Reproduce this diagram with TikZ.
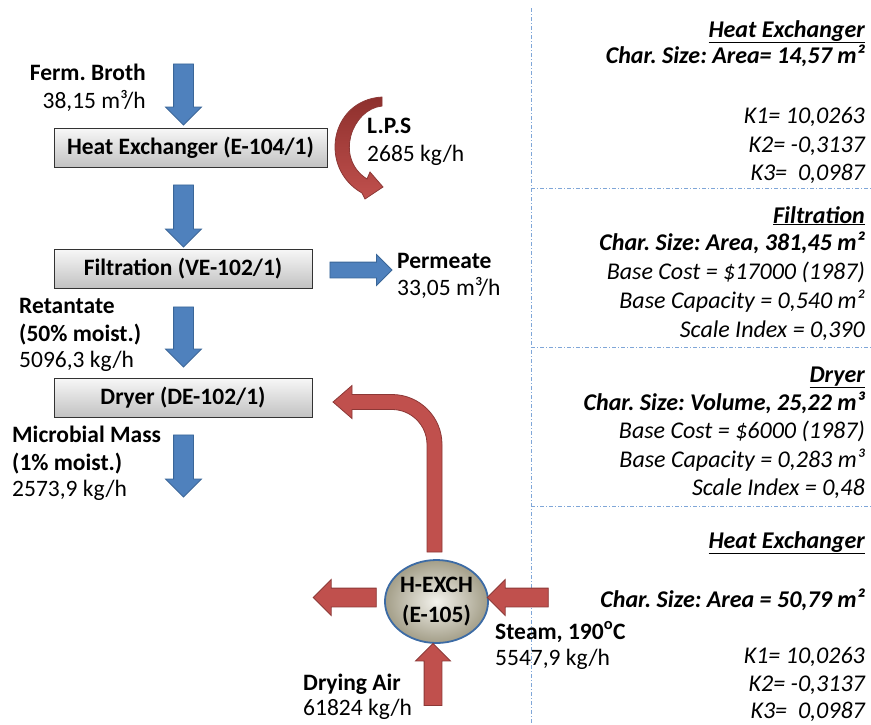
\documentclass[tikz,border=0pt]{standalone}
\usepackage{fontspec}
\setmainfont{Carlito}
\usetikzlibrary{shapes.geometric,shapes.arrows,calc}
\frenchspacing

\definecolor{flowblue}{HTML}{4F81BD}
\definecolor{flowblueedge}{HTML}{3A6698}
\definecolor{hotred}{HTML}{C0504D}
\definecolor{hotreddark}{HTML}{8E302D}
\definecolor{hotrededge}{HTML}{8C3836}
\definecolor{gridblue}{HTML}{7FA6D8}
\definecolor{ballrim}{HTML}{3C6BA5}
\definecolor{ballin}{HTML}{F3F2EC}
\definecolor{ballout}{HTML}{A39E88}

\begin{document}
\begin{tikzpicture}[x=1pt,y=-1pt,
  txt/.style={inner sep=0pt, font=\fontsize{23.5}{28}\selectfont},
  unitbox/.style={draw=black!80, line width=0.8pt, top color=black!3, bottom color=black!24,
    minimum width=#1, minimum height=39pt, inner sep=0pt,
    font=\fontsize{23.5}{28}\selectfont\bfseries},
  % block arrows: shaft width = 2 x inner ysep, head = shaft + 2 x head extend
  bluearrow/.style={single arrow, draw=flowblueedge, fill=flowblue, line width=0.8pt,
    inner xsep=0pt, inner ysep=9.5pt, single arrow head extend=8pt, minimum height=#1},
  redarrow/.style={single arrow, draw=hotrededge, fill=hotred, line width=0.8pt,
    inner xsep=0pt, inner ysep=9pt, single arrow head extend=8.5pt, minimum height=#1},
  sep/.style={draw=gridblue, line width=0.8pt, dash pattern=on 4pt off 2pt on 1pt off 2pt},
  info/.style={anchor=base east, inner sep=0pt, font=\fontsize{24}{28}\selectfont\itshape},
  infobold/.style={info, font=\fontsize{24}{28}\selectfont\bfseries\itshape},
  lw/.style={txt, anchor=base west},
  le/.style={txt, anchor=base east}
]
\useasboundingbox (0,0) rectangle (871,724);

% ---- separators of the cost panel ----
\coordinate (vtop) at (531,8);
\coordinate (vbot) at (531,724);
\draw[sep] (vtop) -- (vbot);
\coordinate (s1l) at (531,188); \coordinate (s1r) at (871,188);
\coordinate (s2l) at (531,347); \coordinate (s2r) at (871,347);
\coordinate (s3l) at (531,506); \coordinate (s3r) at (871,506);
\draw[sep] (s1l) -- (s1r);
\draw[sep] (s2l) -- (s2r);
\draw[sep] (s3l) -- (s3r);

% ---- process units ----
\node[unitbox=273pt] (hx1) at (190.5,147.5) {Heat Exchanger (E-104/1)};
\node[unitbox=258pt] (filt) at (183,268.5) {Filtration (VE-102/1)};
\node[unitbox=258pt] (dry) at (183,397.5) {Dryer (DE-102/1)};
\node[ellipse, draw=ballrim, line width=1.8pt, inner color=ballin, outer color=ballout,
  minimum width=99pt, minimum height=83pt, inner sep=0pt, align=center,
  font=\fontsize{23.5}{30}\selectfont\bfseries] (hx2) at (436.5,601.5) {H-EXCH\\(E-105)};

% ---- main line flows ----
\node[bluearrow=61pt, rotate=-90] (a1) at (183.5,89.5) {};
\node[bluearrow=62pt, rotate=-90] (a2) at (183.5,211) {};
\node[bluearrow=62pt, inner ysep=7.5pt, single arrow head extend=7.5pt] (a3) at (357,270) {};
\node[bluearrow=60pt, rotate=-90] (a4) at (183.5,332) {};
\node[bluearrow=62pt, rotate=-90] (a5) at (183.5,461) {};

% ---- heating medium around H-EXCH ----
\node[redarrow=63pt, rotate=180] (r1) at (349.5,597.5) {};
\node[redarrow=61pt, rotate=180] (r2) at (522.5,597.5) {};
\node[redarrow=62pt, rotate=90, inner ysep=8.5pt] (r3) at (433,679) {};

% hot air bend from H-EXCH up to the dryer
\path[fill=hotred, draw=hotrededge, line width=0.8pt]
  (427,552) -- (427,444.5) .. controls (427,425.2) and (411.3,409.5) .. (392,409.5)
  -- (352,409.5) -- (352,418.5) -- (333,402) -- (352,385.5) -- (352,394.5)
  -- (392,394.5) .. controls (419.6,394.5) and (442,416.9) .. (442,444.5)
  -- (442,552) -- cycle;

% low pressure steam loop at the first heat exchanger
\path[top color=hotreddark, bottom color=hotred, draw=hotrededge, line width=0.8pt]
  (382,97) -- (382,106)
  .. controls (352,109) and (334,158) .. (367,179)
  -- (370,172) -- (383,187) -- (365,199) -- (362,193)
  .. controls (318,168) and (330,100) .. (382,97) -- cycle;

% ---- stream labels ----
\node[le] (fb1) at (146,80) {\bfseries Ferm. Broth};
\node[le] (fb2) at (146,108) {38,15 m³/h};
\node[lw] (lps1) at (367,133) {\bfseries L.P.S};
\node[lw] (lps2) at (367,161) {2685 kg/h};
\node[lw] (pm1) at (397,268) {\bfseries Permeate};
\node[lw] (pm2) at (397,295) {33,05 m³/h};
\node[lw] (rt1) at (19,313) {\bfseries Retantate};
\node[lw] (rt2) at (19,341) {\bfseries (50\% moist.)};
\node[lw] (rt3) at (19,367) {5096,3 kg/h};
\node[lw] (mm1) at (12,442) {\bfseries Microbial Mass};
\node[lw] (mm2) at (12,470) {\bfseries (1\% moist.)};
\node[lw] (mm3) at (12,496) {2573,9 kg/h};
\node[lw] (st1) at (495,639) {\bfseries Steam, 190\textsuperscript{o}C};
\node[lw] (st2) at (495,665) {5547,9 kg/h};
\node[lw] (da1) at (303,690) {\bfseries Drying Air};
\node[lw] (da2) at (303,715) {61824 kg/h};

% ---- cost panel ----
\node[infobold] (c1) at (865,37) {\underline{Heat Exchanger}};
\node[infobold] (c2) at (865,63) {Char. Size: Area= 14,57 m²};
\node[info] (c3) at (865,123) {K1= 10,0263};
\node[info] (c4) at (865,152) {K2= -0,3137};
\node[info] (c5) at (865,180) {K3=\ \ 0,0987};

\node[infobold] (f1) at (865,223) {\underline{Filtration}};
\node[infobold] (f2) at (865,250) {Char. Size: Area, 381,45 m²};
\node[info] (f3) at (865,279) {Base Cost = \$17000 (1987)};
\node[info] (f4) at (865,308) {Base Capacity = 0,540 m²};
\node[info] (f5) at (865,337) {Scale Index = 0,390};

\node[infobold] (d1) at (865,382) {\underline{Dryer}};
\node[infobold] (d2) at (865,410) {Char. Size: Volume, 25,22 m³};
\node[info] (d3) at (865,438) {Base Cost = \$6000 (1987)};
\node[info] (d4) at (865,467) {Base Capacity = 0,283 m³};
\node[info] (d5) at (865,495) {Scale Index = 0,48};

\node[infobold] (h1) at (865,548) {\underline{Heat Exchanger}};
\node[infobold] (h2) at (865,607) {Char. Size: Area = 50,79 m²};
\node[info] (h3) at (865,663) {K1= 10,0263};
\node[info] (h4) at (865,691) {K2= -0,3137};
\node[info] (h5) at (865,718) {K3=\ \ 0,0987};
\end{tikzpicture}
\end{document}
